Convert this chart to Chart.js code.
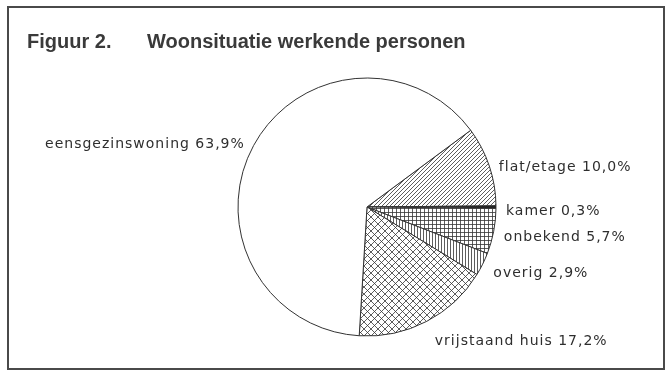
<!DOCTYPE html>
<html>
<head>
<meta charset="utf-8">
<style>
  html, body { margin: 0; padding: 0; background: #fff; }
  canvas { display: block; }
</style>
<script src="https://cdn.jsdelivr.net/npm/chart.js@4/dist/chart.umd.min.js"></script>
</head>
<body>
<canvas id="chart" width="668" height="371"></canvas>
<script>
// Woonsituatie werkende personen (percentages), drawn clockwise from flat/etage
const categories = ['flat/etage', 'kamer', 'onbekend', 'overig', 'vrijstaand huis', 'eensgezinswoning'];
const shares = [10.0, 0.3, 5.7, 2.9, 17.2, 63.9];
const titleNumber = 'Figuur 2.';
const titleText = 'Woonsituatie werkende personen';

const INK = '#333';

// Small repeating tiles for the black-and-white hatch fills
function makePattern(size, draw) {
  const c = document.createElement('canvas');
  c.width = size; c.height = size;
  const g = c.getContext('2d');
  g.fillStyle = '#fff';
  g.fillRect(0, 0, size, size);
  g.strokeStyle = INK;
  g.lineWidth = 0.8;
  draw(g, size);
  return g.createPattern(c, 'repeat');
}
const ctx0 = document.getElementById('chart').getContext('2d');

const diagonal = makePattern(4, (g, s) => {
  g.beginPath();
  g.moveTo(-1, s + 1); g.lineTo(s + 1, -1);
  g.moveTo(-1, 1); g.lineTo(1, -1);
  g.moveTo(s - 1, s + 1); g.lineTo(s + 1, s - 1);
  g.stroke();
});
const grid = makePattern(4, (g, s) => {
  g.beginPath();
  g.moveTo(0.5, 0); g.lineTo(0.5, s);
  g.moveTo(0, 0.5); g.lineTo(s, 0.5);
  g.stroke();
});
const vertical = makePattern(3, (g, s) => {
  g.beginPath();
  g.moveTo(0.5, 0); g.lineTo(0.5, s);
  g.stroke();
});
const crossHatch = makePattern(7, (g, s) => {
  g.beginPath();
  g.moveTo(0, 0); g.lineTo(s, s);
  g.moveTo(0, s); g.lineTo(s, 0);
  g.stroke();
});

const fills = [diagonal, '#1a1a1a', grid, vertical, crossHatch, '#ffffff'];

function pctText(v) {
  return v.toFixed(1).replace('.', ',') + '%';
}

// Frame, heading and outside slice labels
const decorations = {
  id: 'decorations',
  beforeDraw(chart) {
    const ctx = chart.ctx;
    ctx.save();
    ctx.fillStyle = '#fff';
    ctx.fillRect(0, 0, chart.width, chart.height);
    ctx.strokeStyle = '#4a4a4a';
    ctx.lineWidth = 2;
    ctx.strokeRect(8, 7, 656, 362);
    ctx.fillStyle = '#3a3a3a';
    ctx.font = 'bold 20px "Liberation Sans", Arial, sans-serif';
    ctx.textBaseline = 'alphabetic';
    ctx.textAlign = 'left';
    ctx.fillText(titleNumber, 27, 48);
    ctx.fillText(titleText, 147, 48);
    ctx.restore();
  },
  afterDatasetsDraw(chart) {
    const ctx = chart.ctx;
    const meta = chart.getDatasetMeta(0);
    ctx.save();
    ctx.fillStyle = '#2e2e2e';
    ctx.font = '14px "DejaVu Sans", sans-serif';
    ctx.letterSpacing = '1px';
    ctx.textBaseline = 'middle';
    meta.data.forEach((arc, i) => {
      const p = arc.getProps(['x', 'y', 'startAngle', 'endAngle', 'outerRadius'], true);
      const mid = (p.startAngle + p.endAngle) / 2;
      const c = Math.cos(mid), s = Math.sin(mid);
      const gap = 10 + (s > 0 ? 10 * s * s : 0);
      const px = p.x + (p.outerRadius + gap) * c;
      const py = p.y + (p.outerRadius + gap) * s + 4;
      ctx.textAlign = c >= 0 ? 'left' : 'right';
      ctx.fillText(categories[i] + ' ' + pctText(shares[i]), px, py);
    });
    ctx.restore();
  }
};

new Chart(ctx0, {
  type: 'pie',
  data: {
    labels: categories,
    datasets: [{
      data: shares,
      backgroundColor: fills,
      borderColor: INK,
      borderWidth: 1,
      hoverOffset: 0
    }]
  },
  options: {
    responsive: false,
    animation: false,
    events: [],
    rotation: 53.5,
    radius: 129,
    layout: { padding: { left: 238, right: 172, top: 78, bottom: 35 } },
    plugins: {
      legend: { display: false },
      tooltip: { enabled: false },
      title: { display: false }
    }
  },
  plugins: [decorations]
});
</script>
</body>
</html>
